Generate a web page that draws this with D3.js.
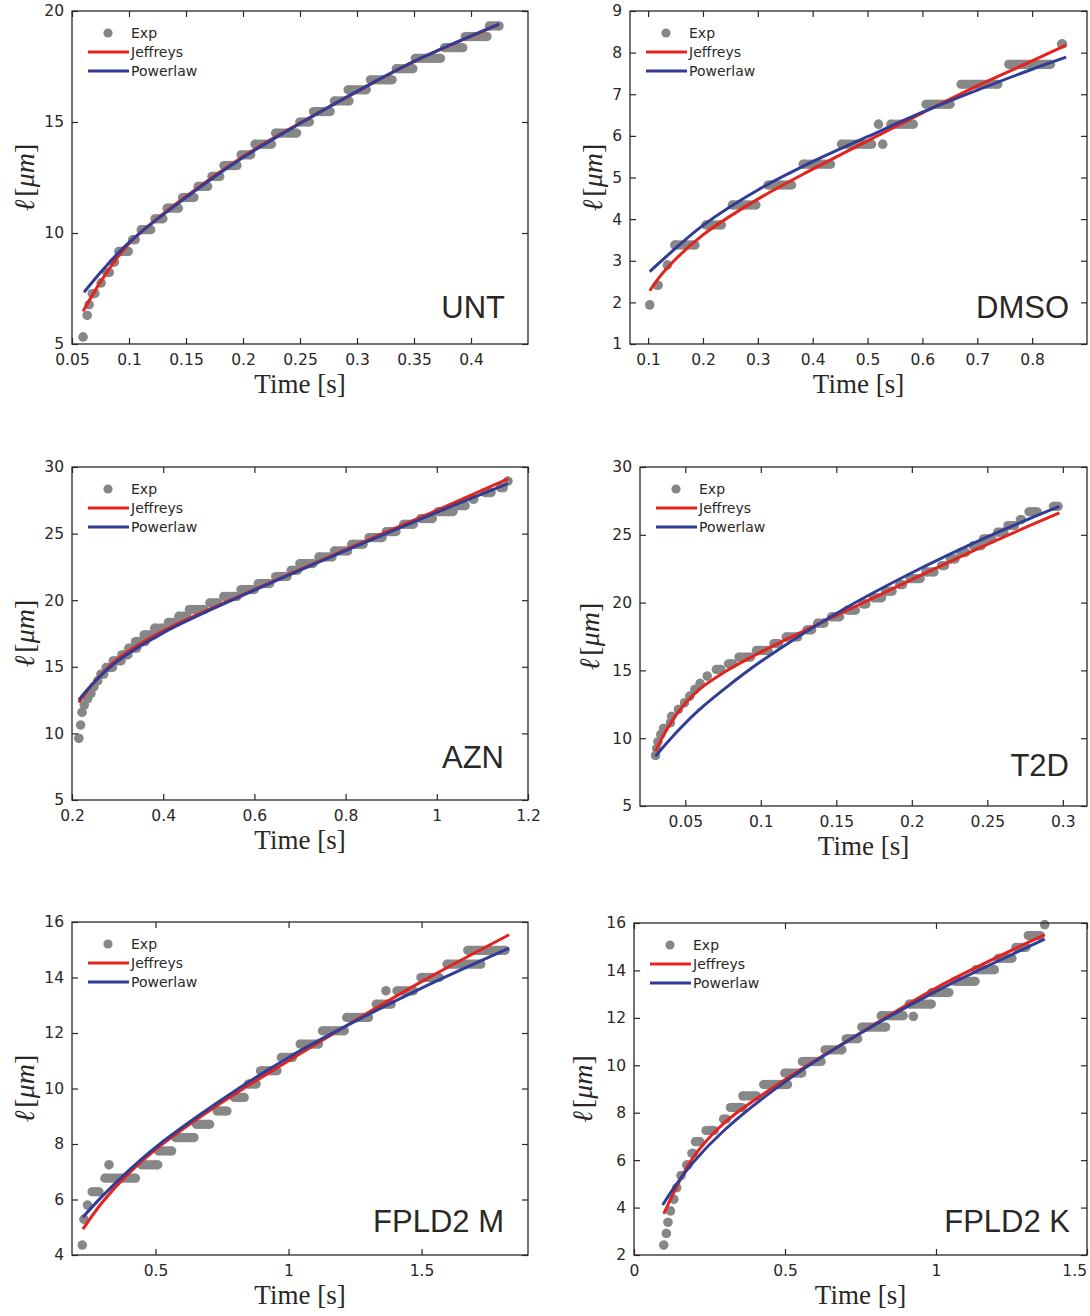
<!DOCTYPE html>
<html>
<head>
<script src="https://cdn.jsdelivr.net/npm/d3@7"></script>
<style>
  body { margin: 0; background: #fff; }
</style>
</head>
<body>
<script>
// ---- data ----
// experimental runs: [t start, t end, length] (a run of overlapping dots at one level)
var untExp = [[0.0597,0.0597,5.32],[0.060,0.0666,6.29],[0.065,0.065,6.77],[0.0636,0.0742,7.27],[0.0718,0.0793,7.75],
  [0.0763,0.0869,8.22],[0.0824,0.0914,8.69],[0.0869,0.1035,9.17],[0.099,0.1096,9.70],[0.1066,0.1232,10.15],
  [0.1187,0.1338,10.64],[0.1293,0.1474,11.12],[0.1429,0.161,11.6],[0.1565,0.1731,12.1],[0.1686,0.1837,12.55],
  [0.1792,0.1988,13.04],[0.1943,0.2109,13.52],[0.2064,0.2291,14.0],[0.2245,0.2511,14.5],[0.2457,0.2623,15.0],
  [0.2578,0.2805,15.47],[0.276,0.2971,15.95],[0.2881,0.3122,16.45],[0.3077,0.3349,16.9],[0.3304,0.3531,17.4],
  [0.347,0.3773,17.87],[0.3727,0.3969,18.35],[0.3909,0.4181,18.85],[0.4121,0.4287,19.33]];
var untJeffreys = [[0.0597,6.47],[0.0763,7.9],[0.1005,9.55],[0.15,11.65],[0.2,13.45],[0.25,14.95],[0.3,16.37],[0.35,17.72],[0.424,19.37]];
var untPowerlaw = [[0.0606,7.33],[0.0763,8.3],[0.1005,9.6],[0.15,11.6],[0.2,13.4],[0.25,14.93],[0.3,16.38],[0.35,17.73],[0.4248,19.42]];

var dmsoExp = [[0.103,0.103,1.94],[0.108,0.127,2.41],[0.135,0.135,2.9],[0.14,0.194,3.38],[0.197,0.242,3.86],
  [0.245,0.305,4.34],[0.31,0.37,4.82],[0.374,0.441,5.32],[0.444,0.516,5.8],[0.5276,0.5276,5.8],[0.52,0.52,6.28],
  [0.534,0.592,6.28],[0.598,0.659,6.76],[0.662,0.746,7.24],[0.749,0.842,7.72],[0.845,0.864,8.21]];
var dmsoJeffreys = [[0.103,2.28],[0.133,2.8],[0.2,3.62],[0.3,4.48],[0.4,5.2],[0.5,5.88],[0.6,6.55],[0.7,7.2],[0.8,7.8],[0.862,8.18]];
var dmsoPowerlaw = [[0.103,2.74],[0.133,3.1],[0.2,3.85],[0.3,4.7],[0.4,5.38],[0.5,5.98],[0.6,6.57],[0.7,7.1],[0.8,7.6],[0.862,7.89]];

var aznExp = [[0.215,0.215,9.63],[0.219,0.219,10.63],[0.222,0.222,11.58],[0.227,0.227,12.13],[0.229,0.240,12.6],
  [0.235,0.248,13.0],[0.240,0.256,13.5],[0.247,0.266,13.95],[0.253,0.28,14.45],[0.2645,0.299,14.95],[0.28,0.318,15.45],
  [0.299,0.333,15.9],[0.314,0.352,16.4],[0.329,0.371,16.9],[0.348,0.39,17.4],[0.371,0.409,17.9],[0.401,0.439,18.33],
  [0.424,0.462,18.8],[0.447,0.4997,19.3],[0.492,0.53,19.8],[0.5225,0.5718,20.28],[0.5604,0.6097,20.8],[0.5983,0.6439,21.25],
  [0.6363,0.6818,21.78],[0.6704,0.7046,22.25],[0.6894,0.7387,22.75],[0.7311,0.7804,23.25],[0.7653,0.8146,23.7],
  [0.8032,0.8487,24.2],[0.8411,0.8904,24.7],[0.8791,0.9208,25.15],[0.917,0.9587,25.7],[0.9549,1.0005,26.13],
  [0.9929,1.046,26.65],[1.0384,1.0725,27.1],[1.0687,1.0915,27.58],[1.0953,1.1294,28.08],[1.1294,1.156,28.45],[1.1522,1.1598,28.95]];
var aznJeffreys = [[0.215,12.33],[0.242,13.58],[0.295,15.45],[0.4,17.7],[0.6,20.8],[0.8,23.8],[1.0,26.75],[1.156,29.1]];
var aznPowerlaw = [[0.215,12.52],[0.242,13.6],[0.295,15.3],[0.4,17.55],[0.6,20.75],[0.8,23.72],[1.0,26.6],[1.156,28.75]];

var t2dExp = [[0.0303,0.0303,8.73],[0.031,0.031,9.22],[0.0319,0.0319,9.74],[0.0338,0.0338,10.28],[0.0356,0.0356,10.72],
  [0.0384,0.0419,11.14],[0.039,0.043,11.62],[0.0431,0.0477,12.12],[0.0477,0.0512,12.61],[0.0512,0.0546,13.1],
  [0.0546,0.058,13.6],[0.0569,0.0627,14.04],[0.062,0.067,14.58],[0.0674,0.0766,15.07],[0.0755,0.0847,15.49],
  [0.0824,0.0963,15.98],[0.094,0.1079,16.47],[0.1056,0.1148,16.98],[0.1137,0.1275,17.47],[0.1275,0.1368,17.99],
  [0.1345,0.1449,18.48],[0.1438,0.1553,18.95],[0.1542,0.1657,19.44],[0.1646,0.1727,19.9],[0.1715,0.1831,20.35],
  [0.1796,0.19,20.84],[0.1889,0.197,21.33],[0.1958,0.2086,21.77],[0.2063,0.2178,22.26],[0.2167,0.2248,22.73],
  [0.2225,0.2317,23.22],[0.2294,0.2387,23.71],[0.2375,0.2491,24.2],[0.2444,0.256,24.7],[0.2537,0.2641,25.19],
  [0.2606,0.2711,25.68],[0.2688,0.2757,26.12],[0.2745,0.2861,26.7],[0.2907,0.3,27.1]];
var t2dJeffreys = [[0.0303,9.05],[0.036,10.3],[0.0454,11.95],[0.0593,13.6],[0.0755,14.85],[0.1,16.35],[0.15,19.05],[0.2,21.7],[0.25,24.3],[0.2977,26.61]];
var t2dPowerlaw = [[0.0303,8.68],[0.036,9.43],[0.0477,10.85],[0.0593,12.1],[0.0755,13.6],[0.1,15.65],[0.15,19.2],[0.2,22.2],[0.25,24.85],[0.2977,27.1]];

var fmExp = [[0.2247,0.2247,4.36],[0.231,0.231,5.29],[0.244,0.244,5.8],[0.244,0.305,6.28],[0.325,0.325,7.25],
  [0.292,0.442,6.77],[0.429,0.526,7.25],[0.494,0.578,7.75],[0.558,0.662,8.23],[0.636,0.721,8.71],[0.714,0.786,9.19],
  [0.779,0.851,9.68],[0.831,0.896,10.16],[0.877,0.974,10.64],[0.955,1.032,11.12],[1.026,1.13,11.6],[1.11,1.227,12.08],
  [1.201,1.318,12.56],[1.312,1.403,13.04],[1.366,1.366,13.52],[1.39,1.487,13.52],[1.48,1.584,14.0],[1.578,1.74,14.48],
  [1.656,1.831,14.98]];
var fmJeffreys = [[0.227,4.93],[0.3,5.9],[0.4,6.95],[0.5,7.8],[0.75,9.5],[1.0,11.0],[1.25,12.45],[1.5,13.85],[1.829,15.54]];
var fmPowerlaw = [[0.227,5.36],[0.3,6.12],[0.4,7.05],[0.5,7.88],[0.75,9.6],[1.0,11.12],[1.25,12.42],[1.5,13.62],[1.829,15.06]];

var fkExp = [[0.0986,0.0986,2.42],[0.107,0.107,2.91],[0.1125,0.1125,3.38],[0.121,0.121,3.86],[0.132,0.132,4.35],
  [0.1415,0.1415,4.84],[0.1415,0.17,5.35],[0.159,0.194,5.8],[0.176,0.211,6.29],[0.188,0.234,6.78],[0.223,0.281,7.25],
  [0.281,0.321,7.73],[0.304,0.374,8.22],[0.345,0.42,8.71],[0.414,0.524,9.19],[0.484,0.571,9.67],[0.542,0.635,10.16],
  [0.617,0.704,10.65],[0.687,0.756,11.12],[0.739,0.849,11.61],[0.803,0.907,12.09],[0.925,0.925,12.06],[0.896,1.0,12.58],
  [0.971,1.058,13.07],[1.046,1.145,13.54],[1.116,1.209,14.03],[1.191,1.267,14.51],[1.249,1.313,14.97],[1.29,1.36,15.47],
  [1.36,1.36,15.93]];
var fkJeffreys = [[0.0986,3.73],[0.136,4.74],[0.194,6.08],[0.298,7.56],[0.5,9.39],[0.75,11.36],[1.0,13.26],[1.36,15.51]];
var fkPowerlaw = [[0.095,4.11],[0.136,4.9],[0.194,5.88],[0.298,7.25],[0.5,9.3],[0.75,11.35],[1.0,13.12],[1.36,15.32]];

// tick values and labels
var untXTicks = [0.05,0.1,0.15,0.2,0.25,0.3,0.35,0.4];
var untXLabels = ["0.05","0.1","0.15","0.2","0.25","0.3","0.35","0.4"];
var untYTicks = [5,10,15,20];
var dmsoXTicks = [0.1,0.2,0.3,0.4,0.5,0.6,0.7,0.8];
var dmsoXLabels = ["0.1","0.2","0.3","0.4","0.5","0.6","0.7","0.8"];
var dmsoYTicks = [1,2,3,4,5,6,7,8,9];
var aznXTicks = [0.2,0.4,0.6,0.8,1,1.2];
var aznXLabels = ["0.2","0.4","0.6","0.8","1","1.2"];
var aznYTicks = [5,10,15,20,25,30];
var t2dXTicks = [0.05,0.1,0.15,0.2,0.25,0.3];
var t2dXLabels = ["0.05","0.1","0.15","0.2","0.25","0.3"];
var t2dYTicks = [5,10,15,20,25,30];
var fmXTicks = [0.5,1,1.5];
var fmXLabels = ["0.5","1","1.5"];
var fmYTicks = [4,6,8,10,12,14,16];
var fkXTicks = [0,0.5,1,1.5];
var fkXLabels = ["0","0.5","1","1.5"];
var fkYTicks = [2,4,6,8,10,12,14,16];

var legendNames = ["Exp", "Jeffreys", "Powerlaw"];

// ---- layout ----
var panels = [
  {name:"UNT", exp:untExp, jef:untJeffreys, pow:untPowerlaw, xd:[0.05,0.45], yd:[5,20],
   xt:untXTicks, xl:untXLabels, yt:untYTicks, left:72, right:528, top:11, bottom:344, ytx:25, lx:505, ly:318},
  {name:"DMSO", exp:dmsoExp, jef:dmsoJeffreys, pow:dmsoPowerlaw, xd:[0.067,0.9], yd:[1,9],
   xt:dmsoXTicks, xl:dmsoXLabels, yt:dmsoYTicks, left:630, right:1087, top:11, bottom:344, ytx:593, lx:1069, ly:318},
  {name:"AZN", exp:aznExp, jef:aznJeffreys, pow:aznPowerlaw, xd:[0.2,1.2], yd:[5,30],
   xt:aznXTicks, xl:aznXLabels, yt:aznYTicks, left:72, right:528, top:467, bottom:800, ytx:25, lx:504, ly:768},
  {name:"T2D", exp:t2dExp, jef:t2dJeffreys, pow:t2dPowerlaw, xd:[0.02,0.316], yd:[5,30],
   xt:t2dXTicks, xl:t2dXLabels, yt:t2dYTicks, left:640, right:1087, top:467, bottom:806, ytx:590, lx:1069, ly:776},
  {name:"FPLD2 M", exp:fmExp, jef:fmJeffreys, pow:fmPowerlaw, xd:[0.186,1.9], yd:[4,16],
   xt:fmXTicks, xl:fmXLabels, yt:fmYTicks, left:72, right:528, top:922, bottom:1255, ytx:25, lx:504, ly:1232},
  {name:"FPLD2 K", exp:fkExp, jef:fkJeffreys, pow:fkPowerlaw, xd:[0,1.5], yd:[2,16],
   xt:fkXTicks, xl:fkXLabels, yt:fkYTicks, left:634, right:1087, top:923, bottom:1255, ytx:583, lx:1070, ly:1232}
];

var W = 1090, H = 1316;
var ink = "#2a2826", grey = "#878787", red = "#e5231e", blue = "#2f3d96";
var dotR = 4.6;

var svg = d3.select("body").append("svg")
  .attr("width", W).attr("height", H);

panels.forEach(function(p) {
  var g = svg.append("g");
  var x = d3.scaleLinear().domain(p.xd).range([p.left, p.right]);
  var y = d3.scaleLinear().domain(p.yd).range([p.bottom, p.top]);

  // experimental dots: runs of dots drawn as a thick bar with round ends
  var runs = p.exp.map(function(d) {
    var x0 = x(d[0]), x1 = x(d[1]);
    if (x1 - x0 > 2 * dotR) { x0 += dotR; x1 -= dotR; }
    else { x0 = x1 = (x0 + x1) / 2; }
    return {x0: x0, x1: x1, y: y(d[2])};
  });
  g.selectAll("line.run").data(runs).enter().append("line")
    .attr("x1", d => d.x0).attr("x2", d => d.x1)
    .attr("y1", d => d.y).attr("y2", d => d.y)
    .attr("stroke", grey).attr("stroke-width", dotR * 2);
  g.selectAll("circle.end").data(runs.flatMap(d => [[d.x0, d.y], [d.x1, d.y]])).enter().append("circle")
    .attr("cx", d => d[0]).attr("cy", d => d[1]).attr("r", dotR).attr("fill", grey);

  var line = d3.line().x(d => x(d[0])).y(d => y(d[1])).curve(d3.curveCatmullRom.alpha(0.5));
  g.append("path").attr("d", line(p.jef)).attr("fill", "none").attr("stroke", red).attr("stroke-width", 3);
  g.append("path").attr("d", line(p.pow)).attr("fill", "none").attr("stroke", blue).attr("stroke-width", 3);

  // axes, ticks inward on all four sides
  var xb = g.append("g").attr("transform", "translate(0," + p.bottom + ")")
    .call(d3.axisBottom(x).tickValues(p.xt).tickFormat((d, i) => p.xl[i]).tickSize(-6).tickSizeOuter(0).tickPadding(10));
  g.append("g").attr("transform", "translate(0," + p.top + ")")
    .call(d3.axisTop(x).tickValues(p.xt).tickFormat("").tickSize(-6).tickSizeOuter(0));
  g.append("g").attr("transform", "translate(" + p.left + ",0)")
    .call(d3.axisLeft(y).tickValues(p.yt).tickFormat(d3.format("d")).tickSize(-6).tickSizeOuter(0).tickPadding(8));
  g.append("g").attr("transform", "translate(" + p.right + ",0)")
    .call(d3.axisRight(y).tickValues(p.yt).tickFormat("").tickSize(-6).tickSizeOuter(0));
  g.selectAll(".domain").remove();
  g.selectAll(".tick line").attr("stroke", ink).attr("stroke-width", 1.2);
  g.selectAll(".tick text").attr("fill", ink).style("font-family", "'DejaVu Sans', sans-serif").style("font-size", "15.5px");

  // keep tick labels inside the page
  xb.selectAll(".tick text").each(function() {
    var bb = this.getBBox();
    var tr = this.parentNode.transform.baseVal.consolidate().matrix.e;
    var over = tr + bb.x + bb.width - (W - 3);
    if (over > 0) d3.select(this).attr("x", -over);
  });

  g.append("rect").attr("x", p.left).attr("y", p.top)
    .attr("width", p.right - p.left).attr("height", p.bottom - p.top)
    .attr("fill", "none").attr("stroke", ink).attr("stroke-width", 1.3);

  // axis titles
  var cx = (p.left + p.right) / 2, cy = (p.top + p.bottom) / 2;
  var xt = g.append("text").attr("x", cx).attr("y", p.bottom + 49).attr("text-anchor", "middle")
    .attr("fill", ink).style("font-family", "'Liberation Serif', 'DejaVu Serif', serif").style("font-size", "27px");
  xt.append("tspan").text("Time ");
  xt.append("tspan").text("[s]");

  var yt = g.append("text").attr("transform", "translate(" + (p.ytx + 9) + "," + cy + ") rotate(-90)")
    .attr("text-anchor", "middle").attr("fill", ink)
    .style("font-family", "'Liberation Serif', 'DejaVu Serif', serif").style("font-size", "28px");
  yt.append("tspan").style("font-style", "italic").text("ℓ");
  yt.append("tspan").attr("dx", 3).text("[");
  yt.append("tspan").style("font-style", "italic").text("μm");
  yt.append("tspan").text("]");

  // panel name
  g.append("text").attr("x", p.lx).attr("y", p.ly).attr("text-anchor", "end").attr("fill", ink)
    .style("font-family", "'Liberation Sans', Arial, sans-serif").style("font-size", "31px").text(p.name);

  // legend
  var lg = g.append("g").attr("transform", "translate(" + p.left + "," + p.top + ")");
  lg.append("circle").attr("cx", 36).attr("cy", 22).attr("r", dotR).attr("fill", grey);
  lg.selectAll("line.key").data([red, blue]).enter().append("line")
    .attr("x1", 16).attr("x2", 57).attr("y1", (d, i) => 41 + i * 19).attr("y2", (d, i) => 41 + i * 19)
    .attr("stroke", d => d).attr("stroke-width", 3);
  lg.selectAll("text").data(legendNames).enter().append("text")
    .attr("x", 59).attr("y", (d, i) => 22 + i * 19).attr("dy", "0.35em")
    .attr("fill", ink).style("font-family", "'DejaVu Sans', sans-serif").style("font-size", "14px")
    .text(d => d);
});
</script>
</body>
</html>
